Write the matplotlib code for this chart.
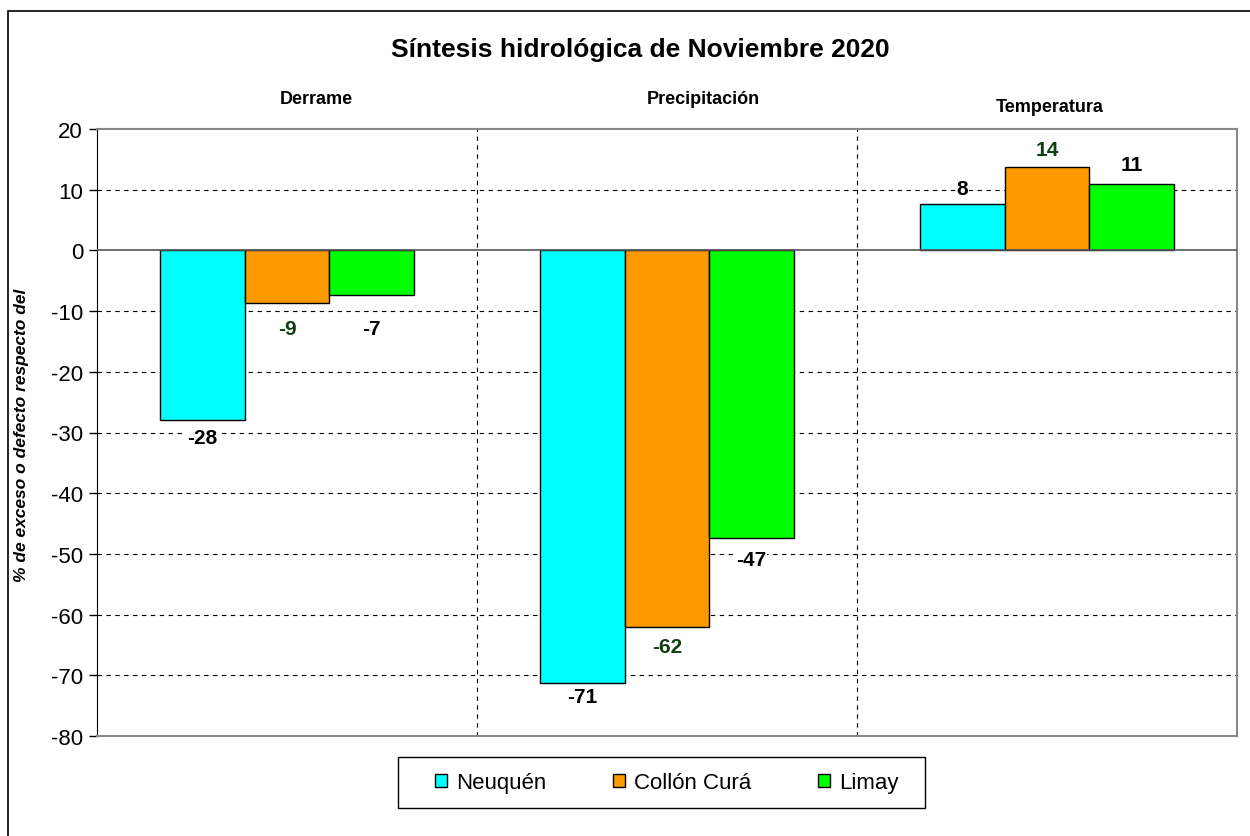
import matplotlib
matplotlib.use("Agg")
import matplotlib.pyplot as plt
import numpy as np
from matplotlib.patches import Rectangle

plt.rcParams['font.family'] = ['Liberation Sans', 'DejaVu Sans']

categories = ["Derrame", "Precipitación", "Temperatura"]
series_names = ["Neuquén", "Collón Curá", "Limay"]
neuquen = [-28.0, -71.3, 7.7]
collon_cura = [-8.6, -62.0, 13.8]
limay = [-7.4, -47.4, 11.0]
yticks = [20, 10, 0, -10, -20, -30, -40, -50, -60, -70, -80]

series = [neuquen, collon_cura, limay]
colors = ["#00FFFF", "#FF9900", "#00FF00"]
label_colors = ["black", "#0E3F0E", "black"]
# label offsets (pixels from bar end to label centre), per series / category
label_offsets = [[17, 13, 15], [26, 20, 17], [33, 21, 19]]

W, H = 1250, 837
fig = plt.figure(figsize=(W / 100, H / 100), dpi=100)
ax = fig.add_axes([97 / W, 1 - 737 / H, (1237 - 97) / W, (737 - 130) / H])

# outer border
fig.patches.append(Rectangle((8 / W, -0.01), 1.2, 1 - 12 / H + 0.01, transform=fig.transFigure,
                             fill=False, edgecolor="black", linewidth=1.2, zorder=0))

x = np.arange(len(categories))
w = 0.222
handles = []
for i, (vals, c, lc) in enumerate(zip(series, colors, label_colors)):
    pos = x + (i - 1) * w
    bars = ax.bar(pos, vals, width=w, color=c, edgecolor="black", linewidth=1.0,
                  label=series_names[i], zorder=3)
    handles.append(bars)
    for j, (p, v) in enumerate(zip(pos, vals)):
        off = label_offsets[i][j] * 0.72
        dy = -off if v < 0 else off
        ax.annotate(f"{v:.0f}", (p, v), xytext=(0, dy), textcoords="offset points",
                    ha="center", va="center", fontsize=15, fontweight="bold", color=lc,
                    bbox=dict(boxstyle="square,pad=0.05", fc="white", ec="none"), zorder=5)

ax.set_xlim(-0.5, 2.5)
ax.set_ylim(-80, 20)
ax.set_yticks(yticks)
ax.set_yticklabels([str(t) for t in yticks], fontsize=16)
ax.set_xticks([])
ax.tick_params(axis="y", direction="out", length=6, width=1, pad=4)

for t in yticks:
    if t not in (20, 0, -80):
        ax.axhline(t, color="black", linestyle=(0, (4, 4)), linewidth=0.8, zorder=1)
ax.axhline(0, color="#555555", linewidth=1.2, zorder=4)
for b in [0.5, 1.5]:
    ax.axvline(b, color="black", linestyle=(0, (4, 4)), linewidth=0.8, zorder=1)

ax.spines["left"].set_color("black")
for s in ["top", "right", "bottom"]:
    ax.spines[s].set_color("#888888")
    ax.spines[s].set_linewidth(1.5)

# category labels above the plot
cat_pos = [(316, 99), (703, 100), (1050, 107)]
for (cx, cy), name in zip(cat_pos, categories):
    fig.text(cx / W, 1 - cy / H, name, ha="center", va="center",
             fontsize=13, fontweight="bold")

fig.text(640 / W, 1 - 50 / H, "Síntesis hidrológica de Noviembre 2020", ha="center", va="center",
         fontsize=19, fontweight="bold")
fig.text(22 / W, 1 - 435 / H, "% de exceso o defecto respecto del", rotation=90, ha="center",
         va="center", fontsize=12.5, style="italic", fontweight="bold")

# legend frame and legend
fig.patches.append(Rectangle((398 / W, 1 - 809 / H), (925 - 398) / W, (809 - 758) / H,
                             transform=fig.transFigure, fill=False,
                             edgecolor="black", linewidth=1.0, zorder=1))
leg = fig.legend(handles, series_names, loc="center left", bbox_to_anchor=(435 / W, 1 - 784 / H),
                 bbox_transform=fig.transFigure,
                 ncol=3, fontsize=16, frameon=False, borderpad=0, borderaxespad=0,
                 handlelength=0.55, handleheight=0.55, columnspacing=3.0,
                 handletextpad=0.4)
leg.set_zorder(5)

fig.savefig("out.png", dpi=100)
